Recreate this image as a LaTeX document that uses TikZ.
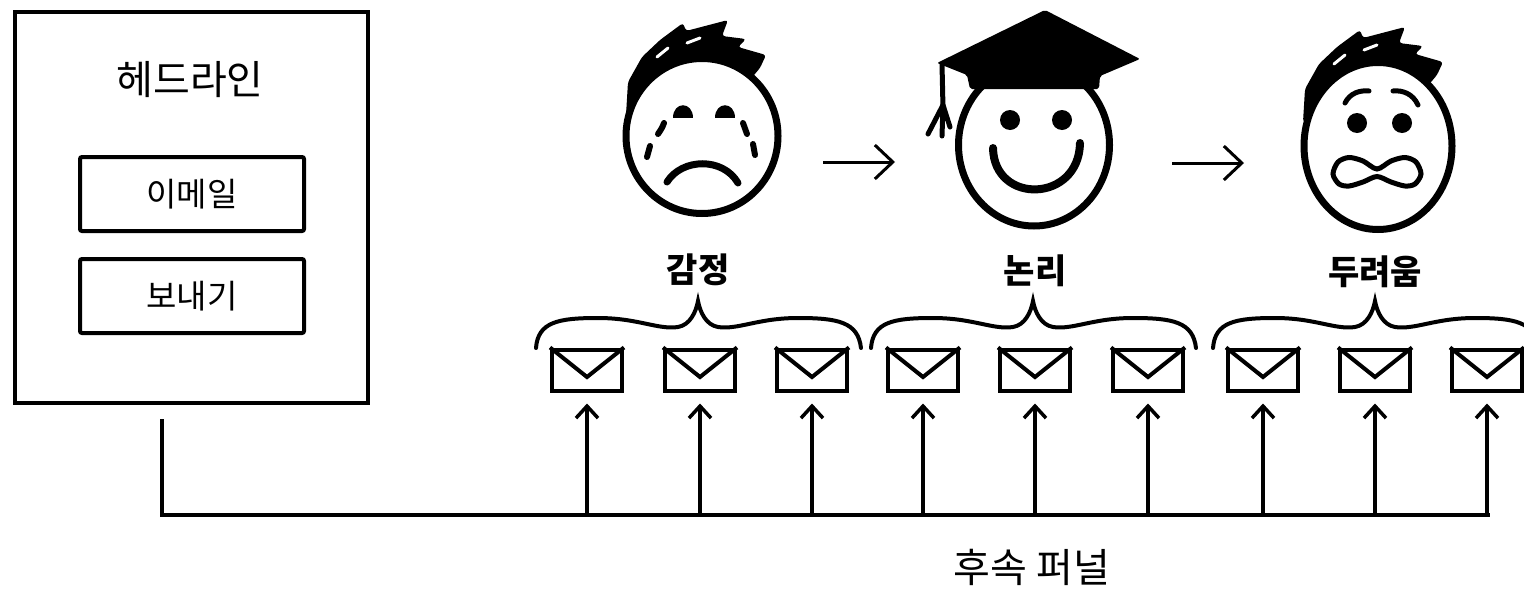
\documentclass[tikz,border=0pt]{standalone}
\usepackage{fontspec}
\newfontfamily\krfont{Noto Sans CJK KR}
\usetikzlibrary{arrows.meta,calc,shapes.geometric}

\tikzset{
  frame/.style={draw, line width=4pt, rectangle, inner sep=0pt},
  subbox/.style={draw, line width=4pt, rounded corners=2pt, inner sep=0pt,
    minimum width=224pt, minimum height=74pt,
    font=\krfont\fontsize{33pt}{38pt}\selectfont},
  mail/.style={draw, line width=4pt, inner sep=0pt,
    minimum width=70pt, minimum height=41pt},
  flap/.style={line width=4pt},
  bus/.style={line width=4pt, line join=miter},
  uparrow/.style={line width=3.5pt, -{Straight Barb[length=12pt,width=22pt]}, shorten >=11pt},
  flow/.style={line width=3pt, -{Straight Barb[length=18pt,width=34pt]}},
  head/.style={ellipse, draw, fill=white, line width=7pt, inner sep=0pt},
  feature/.style={line width=7pt, line cap=round},
  brow/.style={line width=5pt, line cap=round},
  tear/.style={line width=6pt, line cap=round},
  grouplabel/.style={font=\krfont\bfseries\fontsize{34pt}{40pt}\selectfont},
  bigtext/.style={font=\krfont\fontsize{40pt}{48pt}\selectfont},
  hair/.pic={
    \fill[rounded corners=3pt] (-76,-21) -- (-74,-54) -- (-60,-79) -- (-42,-96)
      -- (-19,-113) -- (-16,-105) -- (26,-116) -- (20,-100) -- (44,-97)
      -- (36,-89) -- (64,-81) -- (58,-68) -- (0,0) -- cycle;
    \draw[white, line width=3pt, line cap=round] (-45,-79) -- (-34,-88)
      (-15,-93) -- (-2,-98);
  },
  curly/.pic={
    \draw[line width=4pt, line cap=round]
      (-162,348) .. controls (-160,322) and (-140,318) .. (-100,318)
      .. controls (-60,318) and (-40,330) .. (-20,327)
      .. controls (-8,325) and (-2,312) .. (0,301)
      .. controls (2,312) and (8,325) .. (20,327)
      .. controls (40,330) and (60,318) .. (100,318)
      .. controls (140,318) and (160,322) .. (163,348);
  }
}

\begin{document}
\begin{tikzpicture}[x=1pt,y=-1pt]
\useasboundingbox (0,0) rectangle (1524,592);

% headline block
\node[frame, minimum width=353pt, minimum height=391pt] (headbox) at (191.5,207.5) {};
\node[bigtext] (headline) at (190,80) {헤드라인};
\node[subbox] (mailbox) at (192,194) {이메일};
\node[subbox] (sendbox) at (192,296) {보내기};

% follow-up funnel bus
\coordinate (tap) at (162,419);
\coordinate (busend) at (1490,515);
\draw[bus] (tap) |- (busend);

% envelopes with arrows from the bus
\foreach \i/\x in {1/587,2/700,3/812,4/923,5/1035,6/1148,7/1263,8/1375,9/1487}{
  \node[mail] (env\i) at (\x,370) {};
  \draw[flap] (env\i.north west) -- ($(env\i.center)+(0,7)$) -- (env\i.north east);
  \draw[uparrow] (env\i |- busend) -- (env\i.south);
}

% braces and group labels
\pic at (698,0) {curly};
\pic at (1033,0) {curly};
\pic at (1375,0) {curly};
\node[grouplabel] (emotion) at (698,270) {감정};
\node[grouplabel] (logic) at (1035,271) {논리};
\node[grouplabel] (fear) at (1375,272) {두려움};

\node[bigtext] (funnel) at (1032,567) {후속 퍼널};

% crying face
\pic at (702,136) {hair};
\node[head, minimum width=152pt, minimum height=155pt] (face1) at (702,136) {};
\fill (673,118) .. controls (673,101) and (693,101) .. (693,118) -- cycle;
\fill (715,118) .. controls (715,101) and (735,101) .. (735,118) -- cycle;
\draw[tear] (664,123) .. controls (662,128) .. (658,134);
\draw[tear] (650,146) -- (647,157);
\draw[tear] (743,123) -- (747,134);
\draw[tear] (753,144) -- (755,155);
\draw[feature] (667,182) .. controls (682,158) and (723,157) .. (738,183);

% graduate face
\node[head, minimum width=151pt, minimum height=162pt] (face2) at (1034,145) {};
\fill[rounded corners=2pt] (937,63) -- (1045,10) -- (1140,59) -- (1100,76)
  -- (1099,89) -- (970,89) -- (967,75) -- cycle;
\draw[line width=5pt, line cap=round] (942,64) -- (943,108);
\draw[line width=5pt, line cap=round] (943,105) -- (928,134)
  (943,105) -- (942,136) (943,105) -- (950,127);
\fill (1010,120) circle (10);
\fill (1062,120) circle (10);
\draw[line width=8pt, line cap=round] (993,148) .. controls (994,205) and (1079,203) .. (1080,143);

% scared face
\pic at (1379,143) {hair};
\node[head, minimum width=148pt, minimum height=167pt] (face3) at (1378,146) {};
\draw[brow] (1345,103) .. controls (1350,93) and (1360,90) .. (1369,91);
\draw[brow] (1393,91) .. controls (1403,90) and (1413,94) .. (1418,105);
\fill (1357,123) circle (10);
\fill (1402,123) circle (10);
\draw[line width=5pt] plot[smooth cycle] coordinates {
  (1333,174) (1338,162) (1349,157.5) (1363,161) (1377,169) (1391,161)
  (1405,157.5) (1416,162) (1421,174) (1415,184) (1405,186) (1391,182)
  (1377,176.5) (1363,182) (1349,186) (1339,184)};

% progression arrows
\coordinate (go1a) at (823,162);
\coordinate (go1b) at (895,162);
\coordinate (go2a) at (1172,163);
\coordinate (go2b) at (1244,163);
\draw[flow] (go1a) -- (go1b);
\draw[flow] (go2a) -- (go2b);
\end{tikzpicture}
\end{document}
